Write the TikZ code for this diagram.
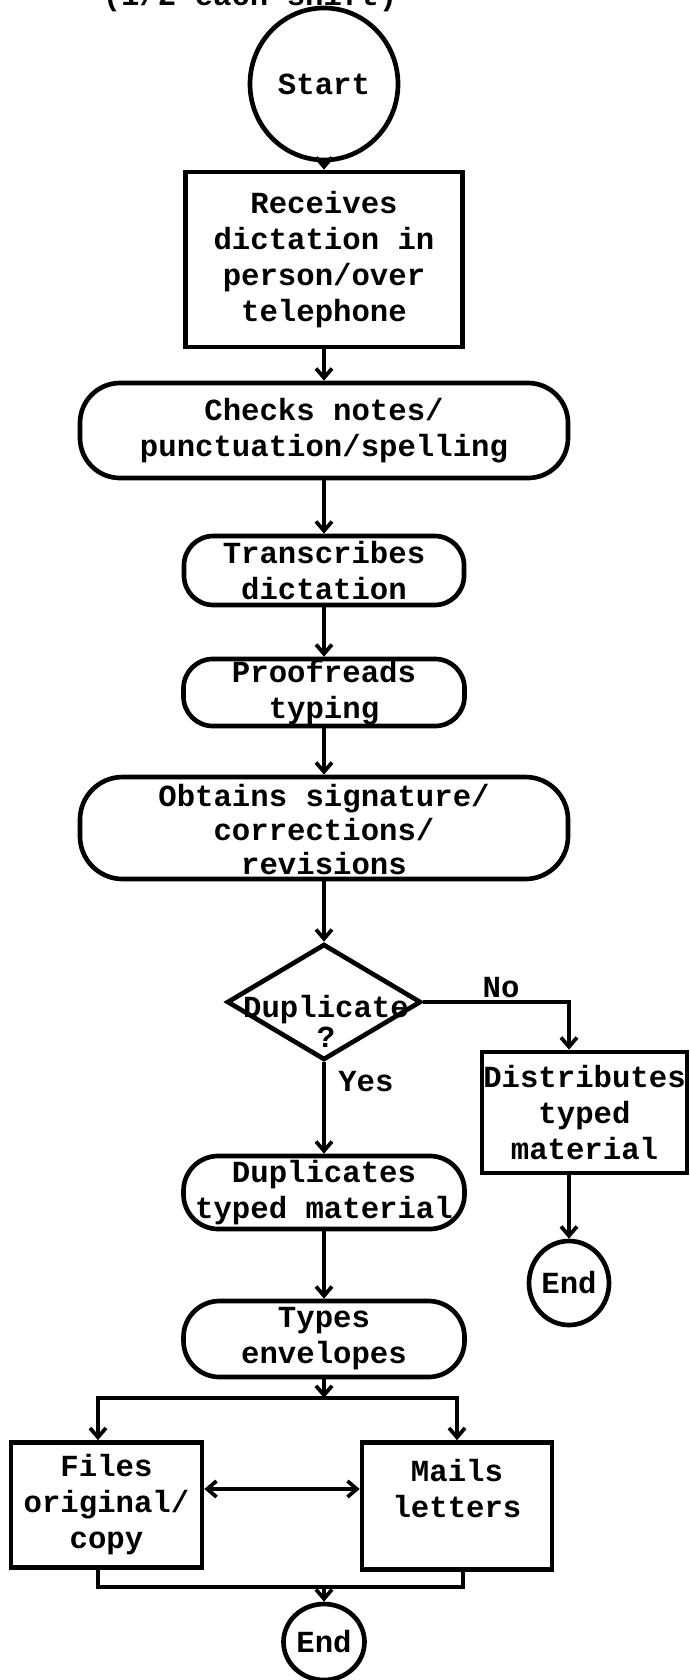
\documentclass[tikz,border=0pt]{standalone}
\usepackage{fontspec}
\setmonofont{Liberation Mono}
\usetikzlibrary{shapes.geometric,arrows.meta}
\newdimen\pxu \pxu=0.75pt
\begin{document}
\begin{tikzpicture}[x=0.75pt,y=-0.75pt,
  every node/.style={font=\ttfamily\bfseries\fontsize{23}{27}\selectfont,
                     align=center, inner sep=0pt},
  shapeline/.style={draw, line width=3.5pt},
  term/.style={shapeline, ellipse},
  procbox/.style={shapeline, rectangle},
  roundbox/.style={shapeline, rectangle, rounded corners=#1},
  decision/.style={shapeline, diamond, aspect=1.67},
  flow/.style={line width=2.8pt, -{Straight Barb[length=7pt,width=12pt]}},
  biflow/.style={line width=2.8pt, {Straight Barb[length=7pt,width=12pt]}-{Straight Barb[length=7pt,width=12pt]}},
  link/.style={line width=2.8pt}
]
\useasboundingbox (0,0) rectangle (689,1680);

% heading line, mostly above the page edge
\node[anchor=base] (heading) at (250,6) {(1/2 each shift)};

% main column
\node[term, minimum width=148\pxu, minimum height=152\pxu] (start) at (324,84) {Start};
\node[procbox, minimum width=277\pxu, minimum height=175\pxu] (recv) at (324,259.5)
  {Receives\\dictation in\\person/over\\telephone};
\node[roundbox=30pt, minimum width=488\pxu, minimum height=95\pxu] (checks) at (324,430.5)
  {Checks notes/\\punctuation/spelling};
\node[roundbox=22pt, minimum width=280\pxu, minimum height=69\pxu] (trans) at (324,570.5)
  {Transcribes\\dictation};
\node[roundbox=22pt, minimum width=281\pxu, minimum height=67\pxu] (proof) at (324,692.5)
  {Proofreads\\typing};
\node[roundbox=32pt, minimum width=488\pxu, minimum height=98\pxu,
      font=\ttfamily\bfseries\fontsize{23}{25.5}\selectfont] (obt) at (324,828)
  {\raisebox{-4pt}[\height][\depth]{\setlength{\tabcolsep}{0pt}%
   \begin{tabular}{c}Obtains signature/\\corrections/\\revisions\end{tabular}}};

% decision
\node[decision, minimum width=194\pxu, minimum height=116\pxu] (dup) at (324,1002) {};
\node[font=\ttfamily\bfseries\fontsize{23}{22.5}\selectfont] (duptext) at (326,1021) {Duplicate\\?};
\node (nolbl) at (501,988) {No};
\node[anchor=west] (yeslbl) at (338,1082) {Yes};

% "no" branch
\node[procbox, minimum width=205\pxu, minimum height=121\pxu] (dist) at (584.5,1112.5)
  {Distributes\\typed\\material};
\node[term, minimum width=80\pxu, minimum height=84\pxu] (endr) at (569,1283) {End};

% "yes" branch
\node[roundbox=26pt, minimum width=281\pxu, minimum height=73\pxu] (dupl) at (324,1192.5)
  {Duplicates\\typed material};
\node[roundbox=27pt, minimum width=281\pxu, minimum height=76\pxu] (types) at (324,1339)
  {Types\\envelopes};
\coordinate (split) at (324,1398);
\node[procbox, minimum width=191\pxu, minimum height=125\pxu] (files) at (106.5,1505)
  {Files\\original/\\copy};
\node[procbox, minimum width=190\pxu, minimum height=127\pxu] (mails) at (457,1506)
  {Mails\\letters\\\mbox{}};
\coordinate (merge) at (324,1587);
\node[term, minimum width=81\pxu, minimum height=76\pxu] (endb) at (324,1642) {End};

% connectors
\draw[flow] (start) -- (recv);
\draw[flow] (recv) -- (checks);
\draw[flow] (checks) -- (trans);
\draw[flow] (trans) -- (proof);
\draw[flow] (proof) -- (obt);
\draw[flow] (obt) -- (dup.north);
\draw[flow] (dup.east) -| (endr |- dist.north);
\draw[flow] (endr |- dist.south) -- (endr.north);
\draw[flow] (dup.south) -- (dupl);
\draw[flow] (dupl) -- (types);
\draw[flow] (types) -- (split);
\draw[flow] (split) -| ([xshift=-6.4pt]files.north);
\draw[flow] (split) -| (mails.north);
\draw[biflow] ([yshift=12pt]files.east) -- ([yshift=12pt]files.east -| mails.west);
\draw[link] ([xshift=-6.4pt]files.south) |- (merge) -| ([xshift=4.5pt]mails.south);
\draw[flow] (merge) -- (endb);
\end{tikzpicture}
\end{document}
